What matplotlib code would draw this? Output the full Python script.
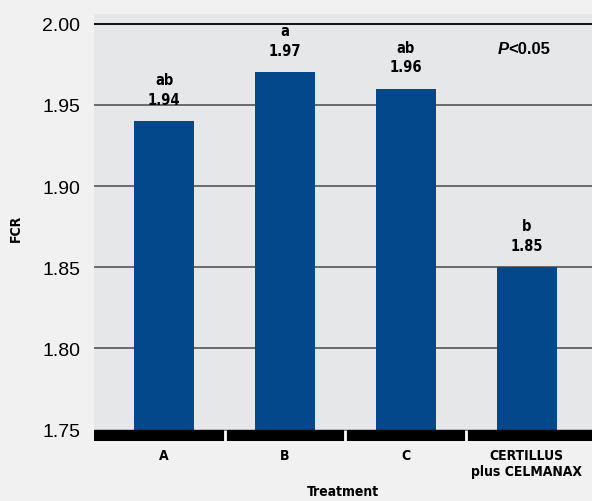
import matplotlib
matplotlib.use('Agg')
import matplotlib.pyplot as plt

treatments = ['A', 'B', 'C', 'CERTILLUS\nplus CELMANAX']
fcr = [1.94, 1.97, 1.96, 1.85]
letters = ['ab', 'a', 'ab', 'b']
yticks = [1.75, 1.80, 1.85, 1.90, 1.95, 2.00]

narrow = dict(family='DejaVu Sans', stretch='condensed', fontweight='bold')
plain = ['Liberation Sans', 'DejaVu Sans']

fig = plt.figure(figsize=(5.92, 5.02), dpi=100)
fig.patch.set_facecolor('#f1f1f1')
ax = fig.add_axes([94/592, 1-442/502, 1-94/592, 427/502])
ax.set_facecolor('#e6e7e8')

x = range(len(treatments))
ax.bar(x, [v - 1.75 for v in fcr], bottom=1.75, width=0.5, color='#03488a', zorder=3)

# grid lines
for t in yticks[1:]:
    ax.axhline(t, color='black' if t == 2.00 else '#606062', lw=1.3, zorder=1)

# black base band with white separators
ax.axhspan(1.743, 1.75, color='black', zorder=4)
ax.vlines([0.5, 1.5, 2.5], 1.743, 1.75, color='white', lw=2, zorder=5)

for i, v in enumerate(fcr):
    ax.text(i, v + 0.009, '%.2f' % v, ha='center', va='bottom', fontsize=10.5, **narrow)
    ax.text(i, v + 0.021, letters[i], ha='center', va='bottom', fontsize=10.5, **narrow)

ax.text(2.85, 1.9845, 'P', ha='right', va='center', fontsize=12,
        fontweight='bold', style='italic', family=plain)
ax.text(2.85, 1.9845, '<0.05', ha='left', va='center', fontsize=12,
        fontweight='bold', family=plain)

ax.set_xlim(-0.58, 3.54)
ax.set_ylim(1.743, 2.006)
ax.set_yticks(yticks)
ax.set_yticklabels(['%.2f' % t for t in yticks], fontsize=14, family=plain)
ax.set_xticks(list(x))
ax.set_xticklabels(treatments, fontsize=10, **narrow)
ax.tick_params(axis='y', length=0, pad=10)
ax.tick_params(axis='x', length=0, pad=5)
for s in ax.spines.values():
    s.set_visible(False)

ax.set_xlabel('Treatment', fontsize=10, labelpad=4, **narrow)
ax.set_ylabel('FCR', fontsize=10, labelpad=14, **narrow)

fig.savefig('out.png', dpi=100, facecolor=fig.get_facecolor())
